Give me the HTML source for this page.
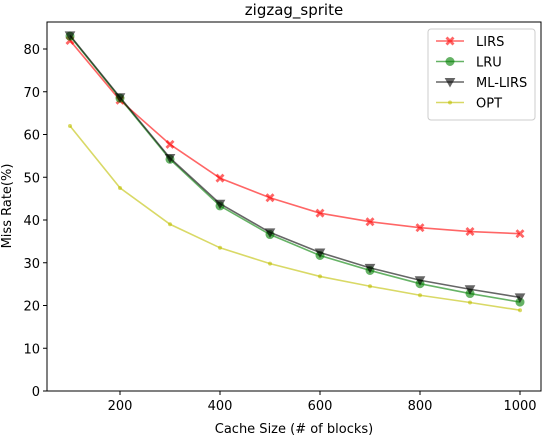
<!DOCTYPE html>
<html><head><meta charset="utf-8"><style>
body{margin:0;background:#fff;}
svg{font-family:"DejaVu Sans","Liberation Sans",sans-serif;display:block}
</style></head><body>
<svg id="chart" width="542" height="435" viewBox="0 0 542 435">
<text x="294" y="15" font-size="15" text-anchor="middle">zigzag_sprite</text>
<rect x="47" y="22" width="494" height="369" fill="none" stroke="#000" stroke-width="1"/>
<g id="axes"></g>
<g id="series"></g>
<text x="294" y="433" font-size="13" text-anchor="middle">Cache Size (# of blocks)</text>
<text transform="translate(11,206) rotate(-90)" font-size="13" text-anchor="middle">Miss Rate(%)</text>
<g id="legend">
<rect x="428" y="29" width="107" height="91" rx="3" fill="#fff" stroke="#ccc"/>
</g>
</svg>
<script>
const cacheSizes=[100,200,300,400,500,600,700,800,900,1000];
const lirs=[82,68,57.7,49.8,45.2,41.6,39.6,38.2,37.3,36.8];
const lru=[83,68.5,54.2,43.3,36.6,31.7,28.2,25.1,22.8,20.8];
const mllirs=[83.2,68.7,54.5,43.8,37.1,32.4,28.8,25.9,23.8,21.9];
const opt=[62,47.5,39,33.5,29.8,26.8,24.5,22.4,20.7,18.9];
const xTicks=[200,400,600,800,1000];
const yTicks=[0,10,20,30,40,50,60,70,80];
const NS="http://www.w3.org/2000/svg";
function X(v){return 70+(v-100)*0.5;}
function Y(v){return 391-v*4.275;}
function mk(tag,attrs,parent){const e=document.createElementNS(NS,tag);for(const k in attrs)e.setAttribute(k,attrs[k]);parent.appendChild(e);return e;}
const axes=document.getElementById('axes');
xTicks.forEach(t=>{
  const l=mk('line',{x1:X(t),x2:X(t),y1:391,y2:395,stroke:'#000'},axes);
  
  
  const tx=mk('text',{x:X(t),y:410,'font-size':13,'text-anchor':'middle'},axes);
  tx.textContent=t;
  
  
});
yTicks.forEach(t=>{
  const l=mk('line',{x1:43,x2:47,y1:Y(t),y2:Y(t),stroke:'#000'},axes);
  
  
  const tx=mk('text',{x:40,y:Y(t)+5,'font-size':13,'text-anchor':'end'},axes);
  tx.textContent=t;
  
  
});
function marker(type,x,y,color,g){
  let e;
  if(type==='x'){
    e=mk('path',{d:`M${x-3.5},${y-3.5}L${x+3.5},${y+3.5}M${x-3.5},${y+3.5}L${x+3.5},${y-3.5}`,stroke:color,'stroke-width':2.8,'stroke-linecap':'butt',opacity:0.6},g);
  }else if(type==='o'){
    e=mk('circle',{cx:x,cy:y,r:4,fill:color,stroke:color,opacity:0.6},g);
  }else if(type==='v'){
    e=mk('path',{d:`M${x-4.5},${y-3.5}L${x+4.5},${y-3.5}L${x},${y+4.5}Z`,fill:color,stroke:color,opacity:0.6},g);
  }else{
    e=mk('circle',{cx:x,cy:y,r:2,fill:color,opacity:0.6},g);
  }
  return e;
}
const series=[
  {name:'LIRS',data:lirs,color:'#ff0000',m:'x',key:'lirs'},
  {name:'LRU',data:lru,color:'#008000',m:'o',key:'lru'},
  {name:'ML-LIRS',data:mllirs,color:'#000000',m:'v',key:'ml-lirs'},
  {name:'OPT',data:opt,color:'#bfbf00',m:'.',key:'opt'}
];
const sg=document.getElementById('series');
const lg=document.getElementById('legend');
series.forEach((s,i)=>{
  const g=mk('g',{},sg);
  
  
  const pts=s.data.map((v,j)=>X(cacheSizes[j])+','+Y(v)).join(' ');
  const pl=mk('polyline',{points:pts,fill:'none',stroke:s.color,'stroke-width':1.6,opacity:0.6},g);
  
  
  s.data.forEach((v,j)=>{
    const m=marker(s.m,X(cacheSizes[j]),Y(v),s.color,g);
    
    
  });
  const ly=41+i*20.5;
  const le=mk('g',{},lg);
  
  
  mk('line',{x1:436,x2:464,y1:ly,y2:ly,stroke:s.color,'stroke-width':1.6,opacity:0.6},le);
  marker(s.m,450,ly,s.color,le);
  const t=mk('text',{x:476,y:ly+5,'font-size':13},le);
  t.textContent=s.name;
});
</script>
</body></html>
